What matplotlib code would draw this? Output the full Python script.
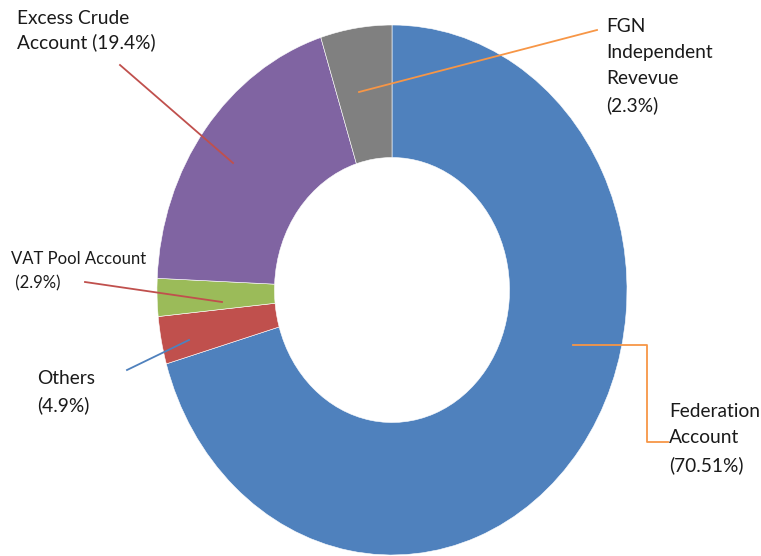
import numpy as np
import matplotlib
matplotlib.use("Agg")
import matplotlib.pyplot as plt

plt.rcParams['font.family'] = ['Lato', 'DejaVu Sans']

# data (clockwise from 12 o'clock)
names = ["Federation Account", "Others", "VAT Pool Account", "Excess Crude Account", "FGN Independent Revevue"]
values = [70.51, 2.9, 2.3, 19.4, 4.9]
colors = ["#4F81BD", "#C0504D", "#9BBB59", "#8064A2", "#808080"]

# label texts as printed on the chart
label_texts = ["Federation\nAccount\n(70.51%)", "Others\n(4.9%)", "VAT Pool Account\n (2.9%)",
               "Excess Crude\nAccount (19.4%)", "FGN\nIndependent\nRevevue\n(2.3%)"]
line_colors = ["#F79646", "#4F81BD", "#C0504D", "#C0504D", "#F79646"]

W, H = 761, 556
fig = plt.figure(figsize=(W / 100, H / 100), dpi=100)

# donut drawn as ellipse: axes box matches the ring in pixels
cx, cy, rx, ry = 392, 290, 235, 265
ax = fig.add_axes([(cx - rx) / W, (H - cy - ry) / H, 2 * rx / W, 2 * ry / H])
wedges, _ = ax.pie(values, colors=colors, startangle=90, counterclock=False,
                   radius=1, wedgeprops=dict(width=0.5, edgecolor="white", linewidth=0.4))
ax.set_xlim(-1, 1)
ax.set_ylim(-1, 1)
ax.set_aspect("auto")
ax.axis("off")


def px(x, y):
    # pixel position -> data coords of the pie axes
    return (x - cx) / rx, (cy - y) / ry


def fpx(x, y):
    return x / W, 1 - y / H


# leader lines (pixel positions)
leaders = [
    [(573, 345), (647, 345), (647, 442), (668, 442)],
    [(189, 340), (127, 370)],
    [(222, 302), (85, 282)],
    [(233, 163), (120, 65)],
    [(359, 92), (597, 30)],
]
for pts, c in zip(leaders, line_colors):
    xy = np.array([px(*p) for p in pts])
    ax.plot(xy[:, 0], xy[:, 1], color=c, lw=1.3, clip_on=False)

# label text positions (left, top in pixels)
text_pos = [(669, 403, 13.8, 1.66), (37, 370, 13.8, 1.62), (11, 251, 12, 1.6),
            (17, 10, 13.8, 1.4), (606, 18, 13.8, 1.63)]
for t, (x, y, fs, ls) in zip(label_texts, text_pos):
    fig.text(*fpx(x, y), t, ha="left", va="top", fontsize=fs, color="#1a1a1a", linespacing=ls)

fig.savefig("out.png", dpi=100)
